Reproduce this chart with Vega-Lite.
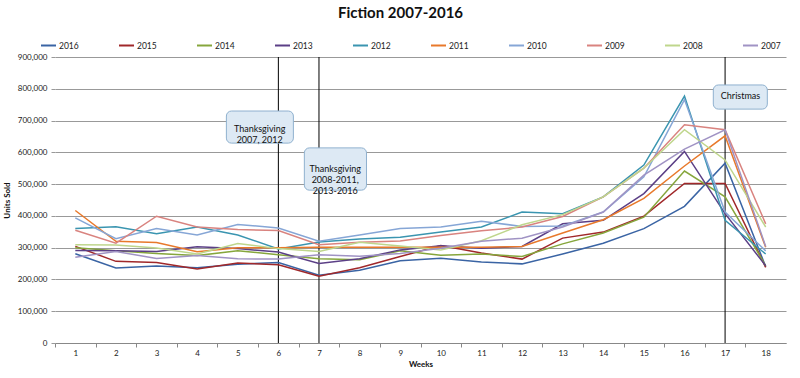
{
  "$schema": "https://vega.github.io/schema/vega-lite/v6.json",
  "width": 731,
  "height": 286,
  "autosize": {"type": "none"},
  "padding": {"left": 55, "top": 57, "right": 14, "bottom": 35},
  "background": "white",
  "config": {"view": {"stroke": null}, "font": "Lato"},
  "title": {"text": "Fiction 2007-2016", "fontSize": 15, "font": "Lato", "fontWeight": "bold", "anchor": "middle", "dx": -20, "offset": 16, "color": "#111"},
  "datasets": {
    "sales": [
      {"year":"2016","week":1,"units":281000},{"year":"2016","week":2,"units":236000},{"year":"2016","week":3,"units":242000},{"year":"2016","week":4,"units":237000},{"year":"2016","week":5,"units":248000},{"year":"2016","week":6,"units":253000},{"year":"2016","week":7,"units":213000},{"year":"2016","week":8,"units":229000},{"year":"2016","week":9,"units":259000},{"year":"2016","week":10,"units":267000},{"year":"2016","week":11,"units":255000},{"year":"2016","week":12,"units":249000},{"year":"2016","week":13,"units":280000},{"year":"2016","week":14,"units":314000},{"year":"2016","week":15,"units":360000},{"year":"2016","week":16,"units":430000},{"year":"2016","week":17,"units":566000},{"year":"2016","week":18,"units":240000},
      {"year":"2015","week":1,"units":304000},{"year":"2015","week":2,"units":257000},{"year":"2015","week":3,"units":253000},{"year":"2015","week":4,"units":233000},{"year":"2015","week":5,"units":252000},{"year":"2015","week":6,"units":246000},{"year":"2015","week":7,"units":210000},{"year":"2015","week":8,"units":237000},{"year":"2015","week":9,"units":272000},{"year":"2015","week":10,"units":307000},{"year":"2015","week":11,"units":283000},{"year":"2015","week":12,"units":264000},{"year":"2015","week":13,"units":330000},{"year":"2015","week":14,"units":349000},{"year":"2015","week":15,"units":399000},{"year":"2015","week":16,"units":502000},{"year":"2015","week":17,"units":502000},{"year":"2015","week":18,"units":238000},
      {"year":"2014","week":1,"units":300000},{"year":"2014","week":2,"units":290000},{"year":"2014","week":3,"units":282000},{"year":"2014","week":4,"units":275000},{"year":"2014","week":5,"units":290000},{"year":"2014","week":6,"units":278000},{"year":"2014","week":7,"units":265000},{"year":"2014","week":8,"units":262000},{"year":"2014","week":9,"units":290000},{"year":"2014","week":10,"units":276000},{"year":"2014","week":11,"units":280000},{"year":"2014","week":12,"units":272000},{"year":"2014","week":13,"units":312000},{"year":"2014","week":14,"units":346000},{"year":"2014","week":15,"units":396000},{"year":"2014","week":16,"units":541000},{"year":"2014","week":17,"units":460000},{"year":"2014","week":18,"units":243000},
      {"year":"2013","week":1,"units":291000},{"year":"2013","week":2,"units":290000},{"year":"2013","week":3,"units":288000},{"year":"2013","week":4,"units":303000},{"year":"2013","week":5,"units":297000},{"year":"2013","week":6,"units":286000},{"year":"2013","week":7,"units":250000},{"year":"2013","week":8,"units":265000},{"year":"2013","week":9,"units":293000},{"year":"2013","week":10,"units":306000},{"year":"2013","week":11,"units":298000},{"year":"2013","week":12,"units":304000},{"year":"2013","week":13,"units":375000},{"year":"2013","week":14,"units":386000},{"year":"2013","week":15,"units":470000},{"year":"2013","week":16,"units":603000},{"year":"2013","week":17,"units":407000},{"year":"2013","week":18,"units":243000},
      {"year":"2012","week":1,"units":360000},{"year":"2012","week":2,"units":366000},{"year":"2012","week":3,"units":344000},{"year":"2012","week":4,"units":365000},{"year":"2012","week":5,"units":340000},{"year":"2012","week":6,"units":296000},{"year":"2012","week":7,"units":318000},{"year":"2012","week":8,"units":327000},{"year":"2012","week":9,"units":333000},{"year":"2012","week":10,"units":349000},{"year":"2012","week":11,"units":365000},{"year":"2012","week":12,"units":412000},{"year":"2012","week":13,"units":407000},{"year":"2012","week":14,"units":460000},{"year":"2012","week":15,"units":560000},{"year":"2012","week":16,"units":777000},{"year":"2012","week":17,"units":386000},{"year":"2012","week":18,"units":280000},
      {"year":"2011","week":1,"units":417000},{"year":"2011","week":2,"units":320000},{"year":"2011","week":3,"units":316000},{"year":"2011","week":4,"units":287000},{"year":"2011","week":5,"units":300000},{"year":"2011","week":6,"units":300000},{"year":"2011","week":7,"units":301000},{"year":"2011","week":8,"units":301000},{"year":"2011","week":9,"units":301000},{"year":"2011","week":10,"units":301000},{"year":"2011","week":11,"units":301000},{"year":"2011","week":12,"units":304000},{"year":"2011","week":13,"units":346000},{"year":"2011","week":14,"units":388000},{"year":"2011","week":15,"units":455000},{"year":"2011","week":16,"units":557000},{"year":"2011","week":17,"units":652000},{"year":"2011","week":18,"units":301000},
      {"year":"2010","week":1,"units":394000},{"year":"2010","week":2,"units":328000},{"year":"2010","week":3,"units":360000},{"year":"2010","week":4,"units":340000},{"year":"2010","week":5,"units":373000},{"year":"2010","week":6,"units":362000},{"year":"2010","week":7,"units":320000},{"year":"2010","week":8,"units":340000},{"year":"2010","week":9,"units":360000},{"year":"2010","week":10,"units":365000},{"year":"2010","week":11,"units":383000},{"year":"2010","week":12,"units":367000},{"year":"2010","week":13,"units":368000},{"year":"2010","week":14,"units":412000},{"year":"2010","week":15,"units":523000},{"year":"2010","week":16,"units":766000},{"year":"2010","week":17,"units":412000},{"year":"2010","week":18,"units":290000},
      {"year":"2009","week":1,"units":355000},{"year":"2009","week":2,"units":314000},{"year":"2009","week":3,"units":399000},{"year":"2009","week":4,"units":365000},{"year":"2009","week":5,"units":357000},{"year":"2009","week":6,"units":354000},{"year":"2009","week":7,"units":309000},{"year":"2009","week":8,"units":317000},{"year":"2009","week":9,"units":321000},{"year":"2009","week":10,"units":338000},{"year":"2009","week":11,"units":353000},{"year":"2009","week":12,"units":365000},{"year":"2009","week":13,"units":398000},{"year":"2009","week":14,"units":460000},{"year":"2009","week":15,"units":550000},{"year":"2009","week":16,"units":687000},{"year":"2009","week":17,"units":671000},{"year":"2009","week":18,"units":375000},
      {"year":"2008","week":1,"units":309000},{"year":"2008","week":2,"units":308000},{"year":"2008","week":3,"units":299000},{"year":"2008","week":4,"units":280000},{"year":"2008","week":5,"units":313000},{"year":"2008","week":6,"units":297000},{"year":"2008","week":7,"units":288000},{"year":"2008","week":8,"units":317000},{"year":"2008","week":9,"units":305000},{"year":"2008","week":10,"units":293000},{"year":"2008","week":11,"units":322000},{"year":"2008","week":12,"units":372000},{"year":"2008","week":13,"units":404000},{"year":"2008","week":14,"units":460000},{"year":"2008","week":15,"units":550000},{"year":"2008","week":16,"units":671000},{"year":"2008","week":17,"units":576000},{"year":"2008","week":18,"units":365000},
      {"year":"2007","week":1,"units":270000},{"year":"2007","week":2,"units":288000},{"year":"2007","week":3,"units":266000},{"year":"2007","week":4,"units":275000},{"year":"2007","week":5,"units":265000},{"year":"2007","week":6,"units":264000},{"year":"2007","week":7,"units":278000},{"year":"2007","week":8,"units":273000},{"year":"2007","week":9,"units":282000},{"year":"2007","week":10,"units":298000},{"year":"2007","week":11,"units":320000},{"year":"2007","week":12,"units":330000},{"year":"2007","week":13,"units":365000},{"year":"2007","week":14,"units":412000},{"year":"2007","week":15,"units":528000},{"year":"2007","week":16,"units":610000},{"year":"2007","week":17,"units":671000},{"year":"2007","week":18,"units":304000}
    ],
    "events": [
      {"week": 6, "units": 0, "units2": 900000},
      {"week": 7, "units": 0, "units2": 900000},
      {"week": 17, "units": 0, "units2": 900000}
    ],
    "boxes": [
      {"week": 4.72, "week2": 6.37, "units": 629000, "units2": 730000},
      {"week": 6.64, "week2": 8.17, "units": 481000, "units2": 614000},
      {"week": 16.71, "week2": 18.04, "units": 736000, "units2": 812000}
    ],
    "labels": [
      {"label": "Thanksgiving\n2007, 2012", "week": 5.54, "units": 673000},
      {"label": "Thanksgiving\n2008-2011,\n2013-2016", "week": 7.40, "units": 547000},
      {"label": "Christmas", "week": 17.38, "units": 776000}
    ]
  },
  "encoding": {
    "x": {"field": "week", "type": "quantitative",
          "scale": {"domain": [0.5, 18.5], "nice": false, "zero": false},
          "axis": {"values": [1,2,3,4,5,6,7,8,9,10,11,12,13,14,15,16,17,18], "ticks": true, "tickSize": 4, "tickColor": "#888",
                   "tickOffset": -20.3, "labelOffset": 20.3, "domain": true, "domainColor": "#888", "grid": false,
                   "labelFontSize": 8, "labelColor": "#222", "labelPadding": 2, "title": "Weeks", "titleFontSize": 8, "titleFontWeight": "bold", "titleColor": "#111", "titlePadding": 3}},
    "y": {"field": "units", "type": "quantitative",
          "scale": {"domain": [0, 900000], "nice": false},
          "axis": {"values": [0,100000,200000,300000,400000,500000,600000,700000,800000,900000], "format": ",d",
                   "grid": true, "gridColor": "#999", "gridWidth": 1, "domain": false, "ticks": true, "tickSize": 4, "tickColor": "#999",
                   "labelFontSize": 8, "labelColor": "#222", "labelPadding": 4,
                   "title": "Units Sold", "titleFontSize": 8, "titleFontWeight": "bold", "titleColor": "#111", "titlePadding": 6}}
  },
  "layer": [
    {
      "data": {"name": "events"},
      "mark": {"type": "rule", "color": "#000", "strokeWidth": 1},
      "encoding": {
        "y2": {"field": "units2"}
      }
    },
    {
      "data": {"name": "sales"},
      "mark": {"type": "line", "strokeWidth": 1.5},
      "encoding": {
        "color": {"field": "year", "type": "nominal",
                  "scale": {"domain": ["2016","2015","2014","2013","2012","2011","2010","2009","2008","2007"],
                            "range": ["#3a64a4","#a0282a","#86a63c","#5b3f86","#3a95b0","#e8792b","#86a6d6","#d9837f","#bfd68c","#a093c4"]},
                  "legend": {"orient": "none", "legendX": -15, "legendY": -20, "direction": "horizontal", "columns": 10, "gridAlign": "all", "columnPadding": 36,
                             "symbolType": "stroke", "symbolSize": 225, "symbolStrokeWidth": 2, "labelFontSize": 8.5, "labelColor": "#222",
                             "labelOffset": 2, "title": null}},
        "detail": {"field": "year"}
      }
    },
    {
      "data": {"name": "boxes"},
      "mark": {"type": "rect", "fill": "#dde9f4", "stroke": "#8fb1cf", "strokeWidth": 1, "cornerRadius": 5},
      "encoding": {
        "x2": {"field": "week2"},
        "y2": {"field": "units2"}
      }
    },
    {
      "data": {"name": "labels"},
      "mark": {"type": "text", "lineBreak": "\n", "fontSize": 9, "lineHeight": 11, "font": "Lato", "color": "#111", "align": "center", "baseline": "middle"},
      "encoding": {
        "text": {"field": "label"}
      }
    }
  ]
}
